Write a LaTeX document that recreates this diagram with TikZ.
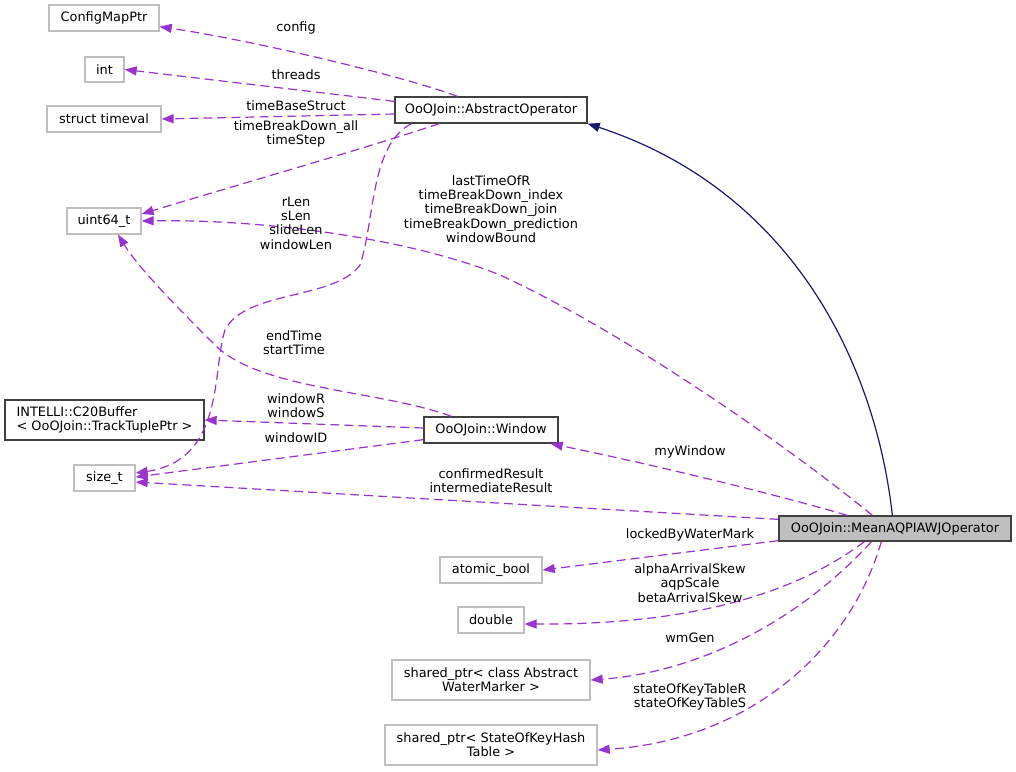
\documentclass[tikz,border=0pt]{standalone}
\usepackage{fontspec}
\setmainfont{DejaVu Sans}
\usetikzlibrary{arrows.meta,calc}
\definecolor{dep}{HTML}{9A32CD}
\definecolor{inh}{HTML}{191970}
\definecolor{ext}{HTML}{BFBFBF}
\definecolor{docb}{HTML}{404040}
\begin{document}
\begin{tikzpicture}[x=1pt,y=-1pt,
  every node/.style={font=\fontsize{12.9}{14.3}\selectfont, inner sep=0pt, text=black},
  extbox/.style={draw=ext, line width=1.3pt, minimum height=26pt},
  docbox/.style={draw=docb, line width=1.3pt, minimum height=26pt},
  lbl/.style={align=center},
  depedge/.style={draw=dep, line width=1.2pt, dash pattern=on 9pt off 5pt, -{Triangle[length=12pt,width=9pt,fill=dep]}},
  inhedge/.style={draw=inh, line width=1.2pt, -{Triangle[length=12pt,width=9pt,fill=inh]}}]
\fill[white] (0,0) rectangle (1016,771);
\useasboundingbox (0,0) rectangle (1016,771);

% nodes
\node[extbox, minimum width=110pt] (cfg) at (104,18) {ConfigMapPtr};
\node[extbox, minimum width=39pt, minimum height=25pt] (int) at (104.5,69.5) {int};
\node[extbox, minimum width=114pt] (tv) at (104,119) {struct timeval};
\node[extbox, minimum width=74pt] (u64) at (104,221) {uint64\_t};
\node[docbox, minimum width=199pt, minimum height=40pt, align=left] (c20) at (104.5,420) {INTELLI::C20Buffer\\< OoOJoin::TrackTuplePtr >};
\node[extbox, minimum width=61pt] (sizet) at (104.5,478) {size\_t};
\node[docbox, minimum width=192pt] (ao) at (491,110) {OoOJoin::AbstractOperator};
\node[docbox, minimum width=134pt] (win) at (491,430) {OoOJoin::Window};
\node[docbox, fill=ext, minimum width=232pt, minimum height=25pt] (mean) at (895,528.5) {OoOJoin::MeanAQPIAWJOperator};
\node[extbox, minimum width=102pt] (ab) at (491,570) {atomic\_bool};
\node[extbox, minimum width=66pt] (dbl) at (491,620) {double};
\node[extbox, minimum width=198pt, minimum height=40pt, align=center] (swm) at (491,680) {shared\_ptr< class Abstract\\WaterMarker >};
\node[extbox, minimum width=212pt, minimum height=40pt, align=center] (sok) at (491,745) {shared\_ptr< StateOfKeyHash\\Table >};

% inheritance
\draw[inhedge] ($(mean.north west)+(114,0)$) .. controls (875,360) and (790,190) .. (ao.south east);

% AbstractOperator members
\draw[depedge] ($(ao.north west)+(63,0)$) .. controls (400,75) and (250,40) .. ($(cfg.south east)+(0,-5)$);
\draw[depedge] ($(ao.north west)+(0,5)$) -- (int.east);
\draw[depedge] ($(ao.west)+(0,4)$) -- (tv.east);
\draw[depedge] ($(ao.south west)+(45,0)$) .. controls (360,150) and (220,190) .. ($(u64.east)+(0,-7)$);
\draw[depedge] ($(ao.south west)+(17,0)$) .. controls (370,145) and (375,220) .. (360,265)
  .. controls (335,300) and (245,290) .. (225,330)
  .. controls (212,370) and (225,460) .. ($(sizet.east)+(0,-5)$);

% MeanAQPIAWJOperator members
\draw[depedge] ($(mean.north west)+(94,0)$) .. controls (780,440) and (620,330) .. (500,275)
  .. controls (400,235) and (250,219) .. (u64.east);
\draw[depedge] ($(mean.north west)+(69,0)$) .. controls (760,490) and (640,462) .. ($(win.south east)+(-8,0)$);
\draw[depedge] ($(mean.north west)+(0,4)$) -- ($(sizet.east)+(0,4)$);
\draw[depedge] ($(mean.south west)+(0,-1)$) -- (ab.east);
\draw[depedge] ($(mean.south west)+(86,0)$) .. controls (800,590) and (700,625) .. ($(dbl.east)+(0,4)$);
\draw[depedge] ($(mean.south west)+(93,0)$) .. controls (800,620) and (700,672) .. (swm.east);
\draw[depedge] ($(mean.south west)+(103,0)$) .. controls (850,650) and (750,740) .. ($(sok.east)+(0,5)$);

% Window members
\draw[depedge] ($(win.north west)+(28,0)$) .. controls (380,390) and (260,390) .. (215,345)
  .. controls (180,310) and (140,270) .. ($(u64.south)+(14,0)$);
\draw[depedge] ($(win.west)+(0,-2)$) -- (c20.east);
\draw[depedge] ($(win.south west)+(0,-4)$) -- ($(sizet.east)+(0,-1)$);

% labels
\node[lbl] (l1) at (296,28) {config};
\node[lbl] (l2) at (296,75) {threads};
\node[lbl] (l3) at (296,106) {timeBaseStruct};
\node[lbl] (l4) at (296,134) {timeBreakDown\_all\\timeStep};
\node[lbl] (l5) at (296,223) {rLen\\sLen\\slideLen\\windowLen};
\node[lbl] (l6) at (491,209) {lastTimeOfR\\timeBreakDown\_index\\timeBreakDown\_join\\timeBreakDown\_prediction\\windowBound};
\node[lbl] (l7) at (294,343) {endTime\\startTime};
\node[lbl] (l8) at (296,406) {windowR\\windowS};
\node[lbl] (l9) at (296,438) {windowID};
\node[lbl] (l10) at (690,452) {myWindow};
\node[lbl] (l11) at (491,481) {confirmedResult\\intermediateResult};
\node[lbl] (l12) at (690,535) {lockedByWaterMark};
\node[lbl] (l13) at (690,583) {alphaArrivalSkew\\aqpScale\\betaArrivalSkew};
\node[lbl] (l14) at (690,638) {wmGen};
\node[lbl] (l15) at (690,697) {stateOfKeyTableR\\stateOfKeyTableS};
\end{tikzpicture}
\end{document}
